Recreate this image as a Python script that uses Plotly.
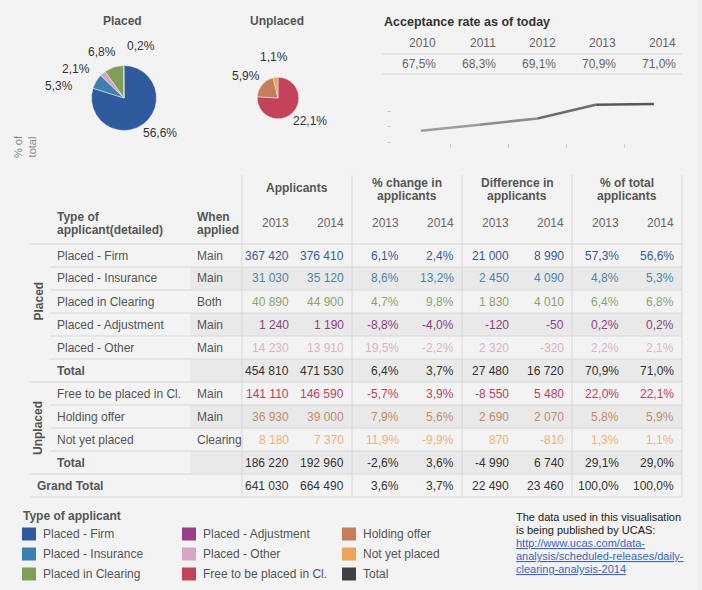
import math
import plotly.graph_objects as go

W, H = 702, 590
FONT = "Liberation Sans, Arial, sans-serif"
BG = "#f3f3f3"
BAND = "#e9e9e9"
GRID = "#d6d6d6"

# ---- data ----
types = ["Placed - Firm", "Placed - Insurance", "Placed in Clearing", "Placed - Adjustment",
         "Placed - Other", "Total", "Free to be placed in Cl.", "Holding offer",
         "Not yet placed", "Total", "Grand Total"]
when = ["Main", "Main", "Both", "Main", "Main", "", "Main", "Main", "Clearing", "", ""]
applicants_2013 = [367420, 31030, 40890, 1240, 14230, 454810, 141110, 36930, 8180, 186220, 641030]
applicants_2014 = [376410, 35120, 44900, 1190, 13910, 471530, 146590, 39000, 7370, 192960, 664490]
pct_change_2013 = [6.1, 8.6, 4.7, -8.8, 19.5, 6.4, -5.7, 7.9, 11.9, -2.6, 3.6]
pct_change_2014 = [2.4, 13.2, 9.8, -4.0, -2.2, 3.7, 3.9, 5.6, -9.9, 3.6, 3.7]
diff_2013 = [21000, 2450, 1830, -120, 2320, 27480, -8550, 2690, 870, -4990, 22490]
diff_2014 = [8990, 4090, 4010, -50, -320, 16720, 5480, 2070, -810, 6740, 23460]
pct_total_2013 = [57.3, 4.8, 6.4, 0.2, 2.2, 70.9, 22.0, 5.8, 1.3, 29.1, 100.0]
pct_total_2014 = [56.6, 5.3, 6.8, 0.2, 2.1, 71.0, 22.1, 5.9, 1.1, 29.0, 100.0]

col_groups = ["Applicants", "% change in<br>applicants", "Difference in<br>applicants", "% of total<br>applicants"]
sub_years = ["2013", "2014"]

rate_years = [2010, 2011, 2012, 2013, 2014]
rate_values = [67.5, 68.3, 69.1, 70.9, 71.0]

placed_order = [0, 1, 4, 2, 3]
unplaced_order = [6, 7, 8]
# where Tableau put each slice label (pixels), same order as the slices
placed_label_xy = [(160, 133), (59, 86), (76, 69), (102, 52), (141, 46)]
unplaced_label_xy = [(310, 121), (246, 76), (274, 57)]

swatch = {"Placed - Firm": "#2f5a9e", "Placed - Insurance": "#3d7fb0", "Placed in Clearing": "#7f9f58",
          "Placed - Adjustment": "#9a3f84", "Placed - Other": "#d3a6c3", "Free to be placed in Cl.": "#c4425a",
          "Holding offer": "#c47e5a", "Not yet placed": "#eca35c", "Total": "#404040"}
text_col = {"Placed - Firm": "#3b5a94", "Placed - Insurance": "#4d84ad", "Placed in Clearing": "#8fa46c",
            "Placed - Adjustment": "#8e3f80", "Placed - Other": "#d9b3c9", "Free to be placed in Cl.": "#b5455f",
            "Holding offer": "#c48b6c", "Not yet placed": "#efb27a", "Total": "#333333", "Grand Total": "#333333"}
legend_items = ["Placed - Firm", "Placed - Insurance", "Placed in Clearing", "Placed - Adjustment",
                "Placed - Other", "Free to be placed in Cl.", "Holding offer", "Not yet placed", "Total"]


def px(x):
    return x / W


def py(y):
    return 1 - y / H


def fmt_int(v):
    return f"{v:,}".replace(",", " ")


def fmt_pct(v):
    return f"{v:.1f}%".replace(".", ",")


annotations = []
shapes = []


def txt(x, y, s, anchor="left", size=12, color="#555555", bold=False, angle=0):
    if bold:
        s = "<b>" + s + "</b>"
    annotations.append(dict(x=px(x), y=py(y), xref="paper", yref="paper", text=s, showarrow=False,
                            xanchor=anchor, yanchor="middle", textangle=angle,
                            font=dict(family=FONT, size=size, color=color)))


def hline(x0, x1, y, color=GRID):
    shapes.append(dict(type="line", xref="paper", yref="paper", x0=px(x0), x1=px(x1), y0=py(y), y1=py(y),
                       line=dict(color=color, width=1)))


def vline(x, y0, y1, color=GRID):
    shapes.append(dict(type="line", xref="paper", yref="paper", x0=px(x), x1=px(x), y0=py(y0), y1=py(y1),
                       line=dict(color=color, width=1)))


def rect(x0, x1, y0, y1, color):
    shapes.append(dict(type="rect", xref="paper", yref="paper", x0=px(x0), x1=px(x1), y0=py(y1), y1=py(y0),
                       fillcolor=color, line=dict(width=0), layer="below"))


fig = go.Figure()

# ---- pies ----
r_placed = 32.5
r_unplaced = r_placed * math.sqrt(applicants_2014[9] / applicants_2014[5])


def add_pie(order, cx, cy, r, label_xy):
    fig.add_trace(go.Pie(
        values=[applicants_2014[i] for i in order],
        labels=[types[i] for i in order],
        text=[fmt_pct(pct_total_2014[i]) for i in order],
        textinfo="none", sort=False, direction="clockwise", rotation=0,
        marker=dict(colors=[swatch[types[i]] for i in order], line=dict(color=BG, width=0.5)),
        domain=dict(x=[px(cx - r), px(cx + r)], y=[py(cy + r), py(cy - r)]),
        showlegend=False, hoverinfo="label+text"))
    for i, (lx, ly) in zip(order, label_xy):
        txt(lx, ly, fmt_pct(pct_total_2014[i]), "center", color="#333333")


add_pie(placed_order, 124, 98, r_placed, placed_label_xy)
add_pie(unplaced_order, 278, 98, r_unplaced, unplaced_label_xy)
txt(123, 21, "Placed", "center", bold=True)
txt(277, 21, "Unplaced", "center", bold=True)
txt(25, 147, "% of<br>total", "center", size=11, color="#8a8a8a", angle=-90)

# ---- acceptance rate ----
txt(382, 22, "Acceptance rate as of today", bold=True, color="#333333", size=12.5)
for k, (yr, v) in enumerate(zip(rate_years, rate_values)):
    txt(382 + 60 * (k + 1) - 4, 43, str(yr), "right", color="#666666")
    txt(382 + 60 * (k + 1) - 4, 64, fmt_pct(v), "right", color="#666666")
hline(382, 682, 54, "#d9d9d9")
hline(382, 682, 74, "#d9d9d9")

lo, hi = min(rate_values), max(rate_values)
for i in range(len(rate_years) - 1):
    m = (rate_values[i] + rate_values[i + 1]) / 2
    g = int(168 - (m - lo) / (hi - lo) * 82)
    fig.add_trace(go.Scatter(x=rate_years[i:i + 2], y=rate_values[i:i + 2], mode="lines",
                             line=dict(color=f"rgb({g},{g},{g})", width=2.5),
                             showlegend=False, hoverinfo="x+y"))

ppu = 7.65
y_lo, y_hi = 65.9, 72.0
x_lo, x_hi = 2009.5, 2014.5

# ---- table ----
row_top = 244
row_h = 23
n_rows = len(types)
val_edges = [242 + 55 * k for k in range(9)]
bands = [1, 3, 5, 7, 9]

for r in range(n_rows):
    y0 = row_top + r * row_h
    if r in bands:
        rect(190, 682, y0, y0 + row_h, BAND)

# headers
for g, label in enumerate(col_groups):
    cx = (val_edges[2 * g] + val_edges[2 * g + 2]) / 2
    lines = label.split("<br>")
    if len(lines) == 1:
        txt(cx, 188, lines[0], "center", bold=True)
    else:
        txt(cx, 183, lines[0], "center", bold=True)
        txt(cx, 196, lines[1], "center", bold=True)
    for s, yr in enumerate(sub_years):
        txt(val_edges[2 * g + s + 1] - 6, 223, yr, "right", color="#666666")
txt(55, 217, "Type of", bold=True)
txt(55, 230, "applicant(detailed)", bold=True)
txt(195, 217, "When", bold=True)
txt(195, 230, "applied", bold=True)

# group labels
txt(38, row_top + 2.5 * row_h, "Placed", "center", bold=True, angle=-90)
txt(38, row_top + 8 * row_h, "Unplaced", "center", bold=True, angle=-90)

cols = [applicants_2013, applicants_2014, pct_change_2013, pct_change_2014,
        diff_2013, diff_2014, pct_total_2013, pct_total_2014]
fmts = [fmt_int, fmt_int, fmt_pct, fmt_pct, fmt_int, fmt_int, fmt_pct, fmt_pct]

for r in range(n_rows):
    cy = row_top + r * row_h + row_h / 2
    name = types[r]
    if name == "Grand Total":
        txt(35, cy, name, bold=True)
    elif name == "Total":
        txt(55, cy, name, bold=True)
    else:
        txt(55, cy, name)
        txt(195, cy, when[r])
    for c, (col, f) in enumerate(zip(cols, fmts)):
        txt(val_edges[c + 1] - 6, cy, f(col[r]), "right", color=text_col[name])

# grid lines
hline(30, 682, row_top)
for r in range(1, n_rows + 1):
    y = row_top + r * row_h
    full = types[r - 1] in ("Total", "Grand Total")
    hline(30 if full else 50, 682, y)
for k in [0, 2, 4, 6, 8]:
    vline(val_edges[k], 175, row_top + n_rows * row_h)
vline(700, 0, H, "#e2e2e2")

# ---- legend ----
txt(21, 516, "Type of applicant", bold=True)
for k, name in enumerate(legend_items):
    col, row = divmod(k, 3)
    sx = 22 + 160 * col
    sy = 534 + 20 * row
    rect(sx, sx + 14, sy - 6.5, sy + 6.5, swatch[name])
    txt(sx + 19, sy, name)

note = ["The data used in this visualisation", "is being published by UCAS:"]
link = ["http://www.ucas.com/data-", "analysis/scheduled-releases/daily-", "clearing-analysis-2014"]
for k, s in enumerate(note):
    txt(514, 517 + 13 * k, s, size=11, color="#222222")
for k, s in enumerate(link):
    txt(514, 543 + 13 * k,
        f'<a href="http://www.ucas.com/data-analysis/scheduled-releases/daily-clearing-analysis-2014" '
        f'style="color:#3a66c4;text-decoration:underline">{s}</a>', size=11, color="#3a66c4")

fig.update_layout(
    width=W, height=H,
    margin=dict(l=0, r=0, t=0, b=0),
    paper_bgcolor=BG, plot_bgcolor="rgba(0,0,0,0)",
    showlegend=False,
    font=dict(family=FONT, size=12, color="#555555"),
    xaxis=dict(domain=[px(392), px(683)], range=[x_lo, x_hi],
               tickvals=[y + 0.5 for y in rate_years[:-1]], ticks="outside", ticklen=4,
               tickcolor="#d0d0d0", showticklabels=False, showgrid=False, zeroline=False,
               showline=False, fixedrange=True),
    yaxis=dict(domain=[py(143), py(143 - (y_hi - y_lo) * ppu)], range=[y_lo, y_hi],
               tickvals=[66, 68, 70], ticks="outside", ticklen=4, tickcolor="#d0d0d0",
               showticklabels=False, showgrid=False, zeroline=False, showline=False, fixedrange=True),
    annotations=annotations,
    shapes=shapes,
)

fig.write_html("out.html", config={"displayModeBar": False},
               post_script="document.body.style.margin='0';document.body.style.background='%s';" % BG)
